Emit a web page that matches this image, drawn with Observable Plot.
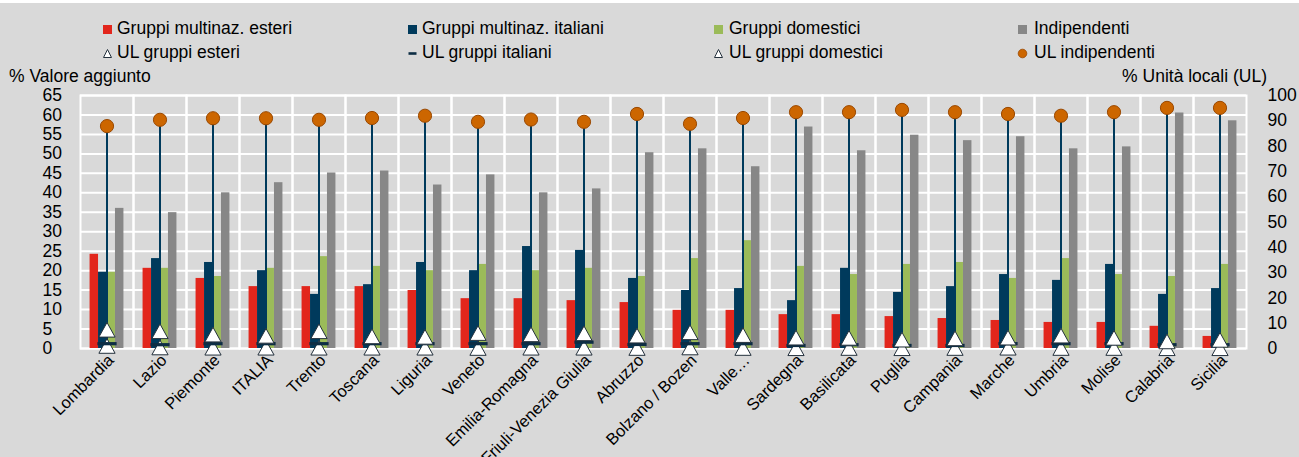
<!DOCTYPE html>
<html>
<head>
<meta charset="utf-8">
<script src="https://cdn.jsdelivr.net/npm/d3@7"></script>
<script src="https://cdn.jsdelivr.net/npm/@observablehq/plot@0.6"></script>
<style>
  html, body { margin: 0; padding: 0; background: #d9d9d9; }
  body { font-family: "Liberation Sans", Arial, sans-serif; color: #000; }
  #wrap { position: relative; width: 1299px; height: 457px; overflow: hidden; background: #d9d9d9; }
  #topline { position: absolute; left: 0; top: 0; width: 1299px; height: 3px; background: #fff; }
  #legend { position: relative; width: 1299px; height: 64px; }
  .item { position: absolute; height: 22px; font-size: 17.5px; line-height: 22px; white-space: nowrap; }
  .item svg { position: absolute; left: 0; }
  .item span { position: absolute; top: 0; white-space: nowrap; }
  .title { position: absolute; font-size: 17.5px; line-height: 20px; white-space: nowrap; }
  #chart svg { display: block; }
</style>
</head>
<body>
<div id="wrap">
  <div id="legend"></div>
  <div id="chart"></div>
  <div id="topline"></div>
  <div class="title" id="tl">% Valore aggiunto</div>
  <div class="title" id="tr">% Unità locali (UL)</div>
</div>
<script>
// ---------- data ----------
const regions = ["Lombardia","Lazio","Piemonte","ITALIA","Trento","Toscana","Liguria","Veneto","Emilia-Romagna","Friuli-Venezia Giulia","Abruzzo","Bolzano / Bozen","Valle…","Sardegna","Basilicata","Puglia","Campania","Marche","Umbria","Molise","Calabria","Sicilia"];

// % valore aggiunto (left axis)
const vaEsteri      = [24.2,20.6,18.0,15.9,15.9,15.9,14.9,12.8,12.8,12.3,11.8,9.8,9.8,8.7,8.7,8.2,7.7,7.2,6.7,6.7,5.7,3.1];
const vaItaliani    = [19.6,23.1,22.1,20.0,13.9,16.4,22.1,20.0,26.2,25.2,18.0,14.9,15.4,12.3,20.6,14.4,15.9,19.0,17.5,21.6,13.9,15.4];
const vaDomestici   = [19.6,20.6,18.5,20.6,23.6,21.1,20.0,21.6,20.0,20.6,18.5,23.1,27.7,21.1,19.0,21.6,22.1,18.0,23.1,19.0,18.5,21.6];
const vaIndipendenti= [36.0,34.9,40.0,42.6,45.1,45.6,42.0,44.6,40.0,41.0,50.3,51.3,46.7,56.9,50.8,54.8,53.4,54.4,51.3,51.8,60.5,58.5];

// % unità locali (right axis)
const ulEsteri       = [1.0,0.4,0.3,0.3,0.3,0.3,0.3,0.2,0.3,0.3,0.2,0.4,0.2,0.1,0.2,0.1,0.2,0.3,0.2,0.2,0.1,0.1];
const ulItaliani     = [1.9,1.5,1.9,1.9,1.9,1.9,1.9,1.9,1.9,2.5,1.6,1.9,1.9,1.2,1.5,1.2,1.2,1.9,1.9,1.9,1.5,1.5];
const ulDomestici    = [7.4,6.8,5.5,5.0,6.8,4.8,4.6,6.1,5.6,6.0,5.1,6.4,5.3,4.3,4.2,3.5,4.0,4.3,5.1,4.2,2.8,3.4];
const ulIndipendenti = [87.9,90.4,91.0,91.0,90.4,91.1,92.0,89.6,90.5,89.6,92.7,88.8,91.1,93.4,93.4,94.3,93.4,92.7,92.0,93.4,95.1,95.1];

const seriesNames  = ["Gruppi multinaz. esteri","Gruppi multinaz. italiani","Gruppi domestici","Indipendenti"];
const ulNames      = ["UL gruppi esteri","UL gruppi italiani","UL gruppi domestici","UL indipendenti"];
const leftTicks  = [0,5,10,15,20,25,30,35,40,45,50,55,60,65];
const rightTicks = [0,10,20,30,40,50,60,70,80,90,100];

// ---------- styles ----------
const FONT = '"Liberation Sans", Arial, sans-serif';
const C = { red: "#e2261c", navy: "#003a5c", green: "#9bbb59", gray: "#878787",
            orange: "#cc6600", orangeStroke: "#9a4800", triStroke: "#24313d", dash: "#0d2d44", grid: "#ffffff" };
const seriesColors = [C.red, C.navy, C.green, C.gray];
const leftMax = 65, rightMax = 100;
const ulScale = leftMax / rightMax;   // maps right axis onto the left y scale
const groupCenter = 0;                // centre of each region's band on the inner x scale

// ---------- tables ----------
const vaSeries = [vaEsteri, vaItaliani, vaDomestici, vaIndipendenti];
const bars = regions.flatMap((region, i) =>
  vaSeries.map((vals, k) => ({ region, k, series: seriesNames[k], value: vals[i] })));
const ul = regions.map((region, i) => ({
  region,
  est: ulEsteri[i] * ulScale,
  ita: ulItaliani[i] * ulScale,
  dom: ulDomestici[i] * ulScale,
  ind: ulIndipendenti[i] * ulScale
}));

// custom symbols (bounding-box centred triangle, flat dash)
const triBox = { draw(ctx, size) { const s = Math.sqrt(size / Math.PI); const w = 1.35 * s, h = 1.22 * s;
  ctx.moveTo(0, -h); ctx.lineTo(w, h); ctx.lineTo(-w, h); ctx.closePath(); } };
const dashSym = { draw(ctx, size) { const s = Math.sqrt(size / Math.PI); ctx.rect(-1.6 * s, -0.27 * s, 3.2 * s, 0.54 * s); } };

// ---------- chart ----------
const chart = Plot.plot({
  width: 1299, height: 393,
  marginTop: 31, marginBottom: 109, marginLeft: 78, marginRight: 51,
  style: { background: "transparent", fontFamily: FONT, fontSize: "17.5px", color: "#000", overflow: "visible" },
  fx: { domain: regions, paddingInner: 0, paddingOuter: 0, axis: null },
  x: { domain: [-3.13, 3.13], axis: null },
  y: { domain: [0, leftMax], axis: null },
  color: { domain: seriesNames, range: seriesColors },
  marks: [
    Plot.ruleY(leftTicks, { stroke: C.grid, strokeWidth: 2 }),
    Plot.frame({ stroke: C.grid, strokeWidth: 2 }),
    Plot.rectY(bars, { fx: "region", x1: d => d.k - 2, x2: d => d.k - 1, y1: 0, y2: "value", fill: "series" }),
    Plot.ruleX(ul, { fx: "region", x: () => groupCenter, y1: d => Math.min(d.est, d.ita, d.dom, d.ind), y2: d => Math.max(d.est, d.ita, d.dom, d.ind), stroke: C.navy, strokeWidth: 2 }),
    Plot.dot(ul, { fx: "region", x: () => groupCenter, y: "est", symbol: triBox, r: 6, fill: "#fff", stroke: C.triStroke, strokeWidth: 1 }),
    Plot.dot(ul, { fx: "region", x: () => groupCenter, y: "ita", symbol: dashSym, r: 6, fill: C.dash, stroke: "none" }),
    Plot.dot(ul, { fx: "region", x: () => groupCenter, y: "dom", symbol: triBox, r: 6, fill: "#fff", stroke: C.triStroke, strokeWidth: 1 }),
    Plot.dot(ul, { fx: "region", x: () => groupCenter, y: "ind", r: 6.6, fill: C.orange, stroke: C.orangeStroke, strokeWidth: 1 }),
    Plot.axisY({ ticks: leftTicks, anchor: "left", tickSize: 0, tickPadding: 38, textAnchor: "start", label: null, fontSize: 17.5 }),
    Plot.axisY({ ticks: rightTicks.map(v => v * ulScale), anchor: "right", tickSize: 0, tickPadding: 21, tickFormat: v => Math.round(v / ulScale), label: null, fontSize: 17.5 }),
    Plot.axisFx({ anchor: "bottom", tickSize: 0, tickRotate: -45, tickPadding: 9, dx: 4, label: null, fontSize: 16.5 })
  ]
});
document.getElementById("chart").appendChild(chart);

// ---------- legend ----------
function marker(kind, color) {
  const ns = "http://www.w3.org/2000/svg";
  const svg = document.createElementNS(ns, "svg");
  svg.setAttribute("width", 11); svg.setAttribute("height", 11);
  let el;
  if (kind === "square") { el = document.createElementNS(ns, "rect"); el.setAttribute("x", 1); el.setAttribute("y", 1); el.setAttribute("width", 9); el.setAttribute("height", 9); el.setAttribute("fill", color); }
  if (kind === "tri") { el = document.createElementNS(ns, "path"); el.setAttribute("d", "M5.5,1.5L9.5,9.5L1.5,9.5Z"); el.setAttribute("fill", "#fff"); el.setAttribute("stroke", C.triStroke); el.setAttribute("stroke-width", 1); }
  if (kind === "dash") { el = document.createElementNS(ns, "rect"); el.setAttribute("x", 1.5); el.setAttribute("y", 4.2); el.setAttribute("width", 8); el.setAttribute("height", 2.6); el.setAttribute("fill", color); }
  if (kind === "dot") { el = document.createElementNS(ns, "circle"); el.setAttribute("cx", 5.5); el.setAttribute("cy", 5.5); el.setAttribute("r", 4.3); el.setAttribute("fill", C.orange); el.setAttribute("stroke", C.orangeStroke); el.setAttribute("stroke-width", 0.8); }
  svg.appendChild(el);
  return svg;
}
const legendMarkerX = [102, 407, 713, 1017];
const legendTextX   = [117, 422, 729, 1034];
const legendCenterY = [29, 53];
const legendItems = [
  [seriesNames[0], "square", C.red, 0, 0], [seriesNames[1], "square", C.navy, 1, 0],
  [seriesNames[2], "square", C.green, 2, 0], [seriesNames[3], "square", C.gray, 3, 0],
  [ulNames[0], "tri", null, 0, 1], [ulNames[1], "dash", C.dash, 1, 1],
  [ulNames[2], "tri", null, 2, 1], [ulNames[3], "dot", null, 3, 1]
];
const leg = document.getElementById("legend");
for (const [label, kind, color, col, row] of legendItems) {
  const div = document.createElement("div");
  div.className = "item";
  div.style.left = legendMarkerX[col] + "px";
  div.style.top = (legendCenterY[row] - 11) + "px";
  const m = marker(kind, color); m.style.top = "5.5px"; div.appendChild(m);
  const span = document.createElement("span"); span.textContent = label;
  span.style.left = (legendTextX[col] - legendMarkerX[col]) + "px";
  span.style.top = "-1px";
  div.appendChild(span);
  leg.appendChild(div);
}
const tl = document.getElementById("tl"); tl.style.left = "9px"; tl.style.top = "66px";
const tr = document.getElementById("tr"); tr.style.right = "32px"; tr.style.top = "66px";
</script>
</body>
</html>
